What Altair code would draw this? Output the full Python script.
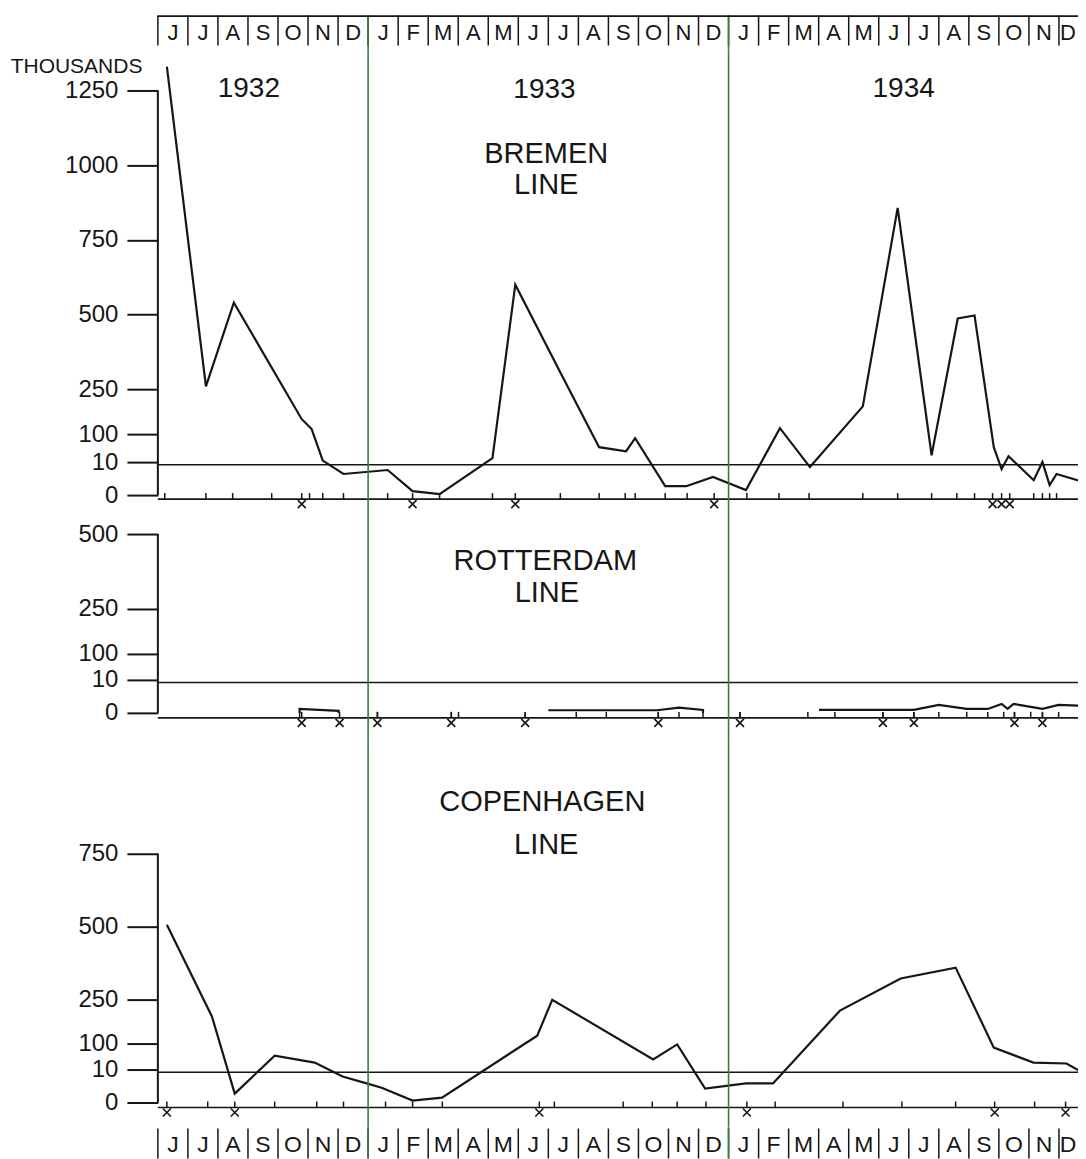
import altair as alt
import pandas as pd

# ---------------- data ----------------
MONTH_LETTERS = list("JJASONDJFMAMJJASONDJFMAMJJASOND")   # June 1932 .. Dec 1934
MONTH_STARTS = list(range(31))
YEAR_BREAKS = [7, 19]

YEAR_LABELS = ["1932", "1933", "1934"]
YEAR_M = [3.03, 12.87, 24.83]
YEAR_V = [1255, 1250, 1255]

# x positions are in months counted from 1 June 1932
BREMEN_M = [0.30, 1.60, 2.53, 4.79, 5.12, 5.49, 6.18, 7.65, 8.48, 9.38, 11.14, 11.90,
            13.43, 14.69, 15.59, 15.89, 16.89, 17.59, 18.48, 19.58, 20.71, 21.71, 23.47,
            24.63, 25.76, 26.63, 27.19, 27.83, 28.09, 28.32, 29.16, 29.45, 29.69, 29.92, 30.85]
BREMEN_V = [1330, 260, 540, 150, 117, 15, 6.4, 7.6, 1.2, 0.3, 23, 600,
            300, 58, 45, 87, 2.7, 2.7, 5.5, 1.5, 120, 8.5, 193,
            857, 32, 487, 497, 58, 7.9, 29, 4.5, 10, 3, 6.4, 3.9]
BREMEN_TICKS = [0.23, 1.60, 2.49, 3.79, 5.05, 5.49, 6.18, 7.65, 9.38, 11.14, 13.40, 14.69,
                15.56, 15.89, 16.89, 17.62, 19.61, 20.68, 21.68, 23.47, 24.63, 25.76, 26.60,
                27.19, 29.16, 29.45, 29.69, 29.92]
BREMEN_CROSSES = [4.79, 8.48, 11.90, 18.52, 27.79, 28.09, 28.36]
BREMEN_TEXT = ["BREMEN", "LINE"]
BREMEN_TEXT_M = [12.93, 12.93]
BREMEN_TEXT_V = [1039, 932]

ROTT_SEG = [1, 1, 1, 1, 2, 2, 2, 2, 2, 2, 2, 3, 3, 3, 3, 3, 3, 3, 3, 3, 3, 3, 3]
ROTT_M = [4.72, 4.72, 6.02, 6.02, 13.00, 13.93, 14.93, 16.62, 17.35, 18.15, 18.15,
          22.01, 25.17, 26.00, 26.93, 27.63, 28.09, 28.29, 28.49, 29.06, 29.45, 29.99, 30.85]
ROTT_V = [0, 1.2, 0.6, 0, 0.8, 0.8, 0.8, 0.8, 1.6, 0.9, 0,
          0.9, 0.9, 2.4, 1.2, 1.2, 2.7, 1.2, 2.7, 1.8, 1.2, 2.4, 2.1]
ROTT_TICKS = [4.72, 7.31, 9.77, 10.01, 12.23, 13.93, 14.93, 16.66, 17.35, 18.15, 19.38,
              21.64, 22.54, 24.14, 25.17, 26.00, 26.93, 27.63, 28.16, 28.52, 29.06, 29.45, 29.99]
ROTT_CROSSES = [4.79, 6.05, 7.31, 9.77, 12.23, 16.66, 19.38, 24.14, 25.17, 28.52, 29.45]
ROTT_TEXT = ["ROTTERDAM", "LINE"]
ROTT_TEXT_M = [12.90, 12.95]
ROTT_TEXT_V = [410, 303]

COP_M = [0.30, 1.80, 2.56, 3.89, 5.22, 6.15, 6.95, 7.45, 8.48, 9.46, 12.63, 13.13,
         16.49, 17.29, 18.22, 19.58, 20.48, 22.71, 24.73, 26.56, 27.83, 29.15, 30.25, 30.85]
COP_V = [507, 193, 2.7, 58, 34, 7.9, 5.8, 4.5, 0.6, 1.5, 127, 250,
         45, 97, 4.2, 5.8, 5.8, 213, 323, 360, 86, 34, 31, 8.8]
COP_TICKS = [1.66, 3.89, 5.29, 6.18, 7.58, 8.48, 9.47, 13.20, 15.49, 16.46, 17.29, 18.25,
             20.55, 22.81, 24.77, 26.56, 29.19]
COP_CROSSES = [0.30, 2.56, 12.70, 19.61, 27.86, 30.22]
COP_TEXT = ["COPENHAGEN", "LINE"]
COP_TEXT_M = [12.80, 12.93]
COP_TEXT_V = [927, 780]

REF_LEVEL = 9.2      # horizontal reference line just under the "10" mark

# ---------------- style / layout ----------------
INK = "#161616"
GREEN = "#3b7d3b"
FONT = "Liberation Sans"
X_END = 30.9          # scale domain end (plot runs off the right edge like the original)
X_VISIBLE = 30.6      # last month position that is still inside the page
W = 929
XS = alt.Scale(domain=[0, X_END], nice=False, zero=False)
XPATH = "M-1,-1L1,1M1,-1L-1,1"


def xenc(field="m"):
    return alt.X(f"{field}:Q", scale=XS, axis=None)


def letter_positions():
    # centre of each month box, the last (partly visible) box centred on its visible part
    return [min(s + 0.5, (s + X_VISIBLE) / 2) for s in MONTH_STARTS]


def strip(height, top_line, sep_y1, sep_y2, letter_y, letter_size):
    seps = alt.Chart(pd.DataFrame({"m": MONTH_STARTS})).mark_rule(
        color=INK, strokeWidth=1.5).encode(x=xenc(), y=alt.value(sep_y1), y2=alt.value(sep_y2))
    letters = alt.Chart(pd.DataFrame({"m": letter_positions(),
                                      "t": MONTH_LETTERS})).mark_text(
        font=FONT, fontSize=letter_size, color=INK, baseline="alphabetic",
        align="center").encode(
        x=xenc(), y=alt.value(letter_y), text="t:N")
    green = alt.Chart(pd.DataFrame({"m": YEAR_BREAKS})).mark_rule(
        color=GREEN, strokeWidth=1.6).encode(x=xenc(), y=alt.value(0), y2=alt.value(height))
    layers = [seps, letters, green]
    if top_line:
        tl = alt.Chart(pd.DataFrame({"m": [0], "m2": [X_END]})).mark_rule(
            color=INK, strokeWidth=1.8).encode(x=xenc(), x2="m2:Q", y=alt.value(0.5))
        layers.append(tl)
    return alt.layer(*layers).properties(width=W, height=height)


def panel(height, zero_px, ten_px, hund_px, top_val, top_px, axis_vals,
          line_df, ticks, crosses, text_df, base_off, title=None, extra=None):
    ys = alt.Scale(domain=[0, 10, 100, top_val], range=[zero_px, ten_px, hund_px, top_px],
                   nice=False, zero=False)
    akw = dict(values=axis_vals, format="d", grid=False, domain=False, ticks=True,
               tickSize=31, tickWidth=2, tickColor=INK, labelFont=FONT, labelFontSize=24,
               labelColor=INK, labelPadding=9, labelFlush=False, labelOverlap=False)
    if title:
        akw.update(title=title, titleAngle=0, titleAlign="right", titleBaseline="bottom",
                   titleX=-16, titleY=27, titleFont=FONT, titleFontSize=21,
                   titleFontWeight="normal", titleColor=INK)
    axis = alt.Axis(**akw)

    def Y(field):
        if title:
            return alt.Y(f"{field}:Q", scale=ys, axis=axis)
        return alt.Y(f"{field}:Q", scale=ys, axis=axis, title=None)

    axis_line = alt.Chart(pd.DataFrame({"m": [0], "y0": [0], "y1": [top_val]})).mark_rule(
        color=INK, strokeWidth=2).encode(x=xenc(), y=Y("y0"), y2="y1:Q")
    baseline = alt.Chart(pd.DataFrame({"m": [0], "m2": [X_END], "y0": [0]})).mark_rule(
        color=INK, strokeWidth=1.7, yOffset=base_off).encode(x=xenc(), x2="m2:Q", y=Y("y0"))
    ref = alt.Chart(pd.DataFrame({"m": [0], "m2": [X_END], "y0": [REF_LEVEL]})).mark_rule(
        color=INK, strokeWidth=1.5).encode(x=xenc(), x2="m2:Q", y=Y("y0"))
    line = alt.Chart(line_df).mark_line(color=INK, strokeWidth=2.2, clip=True).encode(
        x=xenc(), y=Y("v"), detail="seg:N", order="i:Q")
    tk = alt.Chart(pd.DataFrame({"m": ticks + crosses, "y0": 0})).mark_tick(
        orient="vertical", size=6, thickness=1.5, color=INK, yOffset=base_off - 3,
        opacity=1).encode(x=xenc(), y=Y("y0"))
    cr = alt.Chart(pd.DataFrame({"m": crosses, "y0": 0})).mark_point(
        shape=XPATH, filled=False, size=64, strokeWidth=1.6, color=INK, opacity=1,
        yOffset=base_off + 5).encode(x=xenc(), y=Y("y0"))
    txt = alt.Chart(text_df).mark_text(font=FONT, fontSize=29, color=INK,
                                       baseline="middle", align="center").encode(
        x=xenc(), y=Y("v"), text="t:N")
    green = alt.Chart(pd.DataFrame({"m": YEAR_BREAKS})).mark_rule(
        color=GREEN, strokeWidth=1.6).encode(x=xenc(), y=alt.value(0), y2=alt.value(height))
    layers = [axis_line, baseline, ref, line, tk, cr, txt, green]
    if extra is not None:
        layers.append(extra(Y))
    return alt.layer(*layers).properties(width=W, height=height)


def line_frame(ms, vs, segs=None):
    if segs is None:
        segs = [1] * len(ms)
    return pd.DataFrame({"m": ms, "v": vs, "seg": segs, "i": list(range(len(ms)))})


def text_frame(ts, ms, vs):
    return pd.DataFrame({"t": ts, "m": ms, "v": vs})


def years_layer(Y):
    return alt.Chart(text_frame(YEAR_LABELS, YEAR_M, YEAR_V)).mark_text(
        font=FONT, fontSize=28, color=INK, baseline="middle", align="center").encode(
        x=xenc(), y=Y("v"), text="t:N")


top = strip(34, True, 0, 30, 24, 22)
bremen = panel(462, 446, 413, 385, 1250, 41, [0, 10, 100, 250, 500, 750, 1000, 1250],
               line_frame(BREMEN_M, BREMEN_V), BREMEN_TICKS, BREMEN_CROSSES,
               text_frame(BREMEN_TEXT, BREMEN_TEXT_M, BREMEN_TEXT_V), 4,
               title="THOUSANDS", extra=years_layer)
rotterdam = panel(230, 202, 169, 143, 500, 23, [0, 10, 100, 250, 500],
                  line_frame(ROTT_M, ROTT_V, ROTT_SEG), ROTT_TICKS, ROTT_CROSSES,
                  text_frame(ROTT_TEXT, ROTT_TEXT_M, ROTT_TEXT_V), 5)
copenhagen = panel(387, 362, 329, 303, 750, 113, [0, 10, 100, 250, 500, 750],
                   line_frame(COP_M, COP_V), COP_TICKS, COP_CROSSES,
                   text_frame(COP_TEXT, COP_TEXT_M, COP_TEXT_V), 5)
bottom = strip(31, False, 1, 31, 25, 23)

chart = alt.vconcat(top, bremen, rotterdam, copenhagen, bottom, spacing=0, bounds="flush").properties(
    padding={"left": 2, "top": 6, "right": -9, "bottom": 0},
    background="white",
).configure_view(stroke=None)

chart.save("out.html", embed_options={"renderer": "svg", "actions": False})
